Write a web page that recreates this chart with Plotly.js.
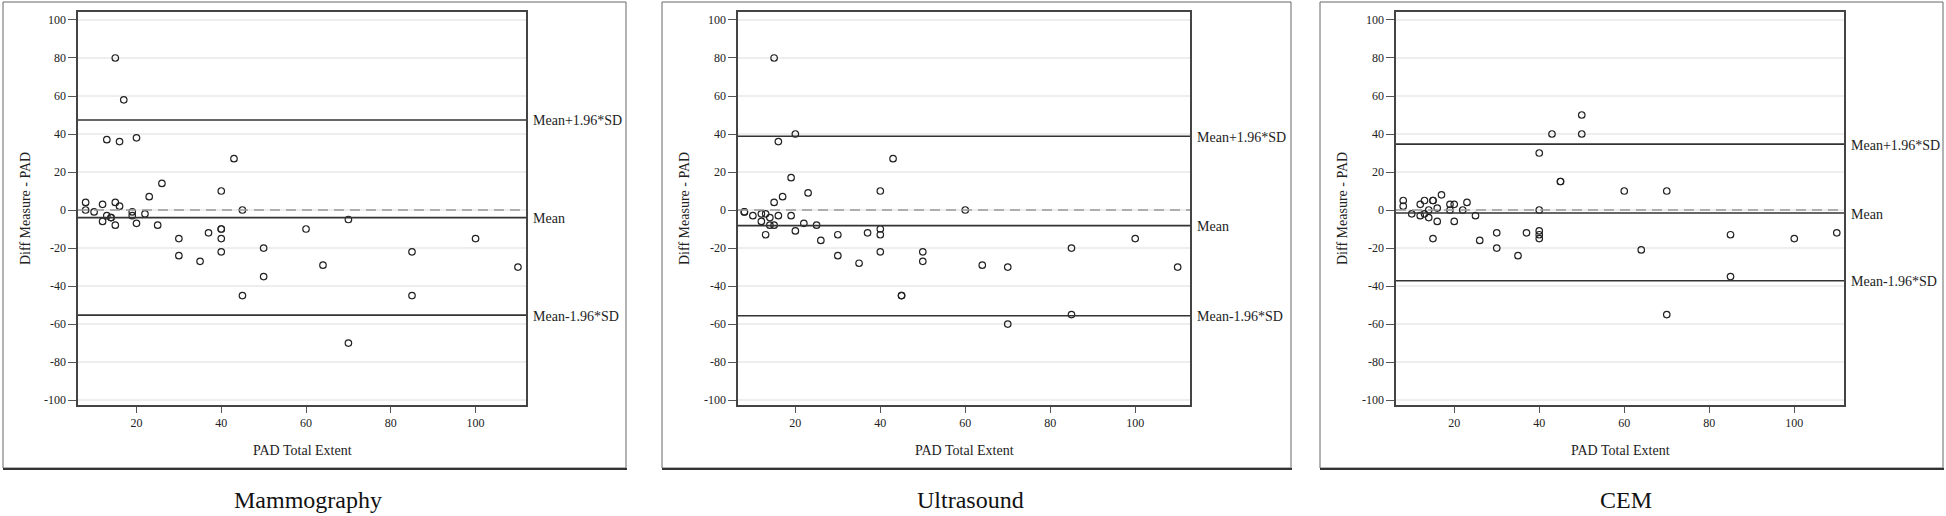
<!DOCTYPE html>
<html>
<head>
<meta charset="utf-8">
<script src="https://cdn.plot.ly/plotly-3.0.1.min.js"></script>
<style>html,body{margin:0;padding:0;background:#fff;}#chart{width:1946px;height:516px;}</style>
</head>
<body>
<div id="chart"></div>
<script>
// ---------- DATA ----------
const panelNames = ['Mammography', 'Ultrasound', 'CEM'];

const xMammo = [8, 8, 10, 12, 12, 13, 13, 14, 14, 15, 15, 15, 16, 16, 17, 19, 19, 20, 20, 22, 23, 25, 26, 30, 30, 35, 37, 40, 40, 40, 40, 40, 43, 45, 45, 50, 50, 60, 64, 70, 70, 85, 85, 100, 110];
const yMammo = [4, 0, -1, 3, -6, 37, -3, -4, -4, 80, 4, -8, 36, 2, 58, -1, -3, 38, -7, -2, 7, -8, 14, -15, -24, -27, -12, 10, -10, -10, -15, -22, 27, 0, -45, -20, -35, -10, -29, -5, -70, -22, -45, -15, -30];

const xUltra = [8, 8, 10, 12, 12, 13, 13, 14, 14, 15, 15, 15, 16, 16, 17, 19, 19, 20, 20, 22, 23, 25, 26, 30, 30, 35, 37, 40, 40, 40, 40, 43, 45, 45, 50, 50, 60, 64, 70, 70, 85, 85, 100, 110];
const yUltra = [-1, -1, -3, -2, -6, -2, -13, -4, -8, 80, 4, -8, 36, -3, 7, 17, -3, 40, -11, -7, 9, -8, -16, -13, -24, -28, -12, 10, -10, -13, -22, 27, -45, -45, -22, -27, 0, -29, -30, -60, -20, -55, -15, -30];

const xCEM = [8, 8, 10, 12, 12, 13, 13, 14, 14, 15, 15, 15, 16, 16, 17, 19, 19, 20, 20, 22, 23, 25, 26, 30, 30, 35, 37, 40, 40, 40, 40, 40, 43, 45, 45, 50, 50, 60, 64, 70, 70, 85, 85, 100, 110];
const yCEM = [5, 2, -2, 3, -3, 5, -2, 0, -4, 5, 5, -15, 1, -6, 8, 3, 0, 3, -6, 0, 4, -3, -16, -12, -20, -24, -12, 30, 0, -11, -13, -15, 40, 15, 15, 50, 40, 10, -21, 10, -55, -13, -35, -15, -12];

const meanVals  = [-4.0, -8.2, -1.6];
const upperVals = [47.4, 38.8, 34.7];
const lowerVals = [-55.3, -55.6, -37.2];
const refLabels = ['Mean+1.96*SD', 'Mean', 'Mean-1.96*SD'];

const yTickVals = [-100, -80, -60, -40, -20, 0, 20, 40, 60, 80, 100];
const yTickText = ['-100', '-80', '-60', '-40', '-20', '0', '20', '40', '60', '80', '100'];
const xTickVals = [20, 40, 60, 80, 100];
const xTickText = ['20', '40', '60', '80', '100'];
const xTitleText = 'PAD Total Extent';
const yTitleText = 'Diff Measure - PAD';

// ---------- LAYOUT CONSTANTS ----------
const W = 1946, H = 516;
const FONT = 'Liberation Serif, Times New Roman, serif';
const plotPx  = [[78, 526], [738, 1190], [1396, 1844]];
const framePx = [[3, 626], [662, 1291], [1320, 1943]];
const xRanges = [[6.2, 111.9], [6.5, 112.9], [6.3, 111.7]];
const yRange = [-102.6, 104.2];
const plotTop = 12, plotBot = 405, frameTop = 2, frameBot = 468;
const px = v => v / W;
const py = v => 1 - v / H;

const xs = [xMammo, xUltra, xCEM];
const ys = [yMammo, yUltra, yCEM];

const data = [];
const layout = {
  width: W, height: H,
  margin: {l: 0, r: 0, t: 0, b: 0},
  paper_bgcolor: '#ffffff', plot_bgcolor: '#ffffff',
  showlegend: false,
  font: {family: FONT, color: '#222', size: 12},
  shapes: [], annotations: []
};

for (let i = 0; i < 3; i++) {
  const s = i === 0 ? '' : String(i + 1);
  data.push({
    type: 'scatter', mode: 'markers',
    x: xs[i], y: ys[i],
    xaxis: 'x' + s, yaxis: 'y' + s,
    marker: {symbol: 'circle-open', size: 6.5, color: '#222', line: {width: 1.2, color: '#222'}},
    hoverinfo: 'x+y'
  });
  layout['xaxis' + s] = {
    domain: [px(plotPx[i][0]), px(plotPx[i][1])],
    anchor: 'y' + s,
    range: xRanges[i],
    tickmode: 'array', tickvals: xTickVals, ticktext: xTickText,
    ticks: 'outside', ticklen: 6, tickwidth: 1, tickcolor: '#555',
    tickfont: {family: FONT, size: 12, color: '#222'},
    showgrid: false, zeroline: false,
    showline: true, mirror: true, linecolor: '#444', linewidth: 1.6
  };
  layout['yaxis' + s] = {
    domain: [py(plotBot), py(plotTop)],
    anchor: 'x' + s,
    range: yRange,
    tickmode: 'array', tickvals: yTickVals, ticktext: yTickText,
    ticks: 'outside', ticklen: 8, tickwidth: 1, tickcolor: '#555',
    tickfont: {family: FONT, size: 12, color: '#222'},
    showgrid: true, gridcolor: '#eeeeee', gridwidth: 1.5,
    zeroline: false,
    showline: true, mirror: true, linecolor: '#444', linewidth: 1.6
  };
  // outer panel frame
  layout.shapes.push({type: 'rect', xref: 'paper', yref: 'paper',
    x0: px(framePx[i][0]), x1: px(framePx[i][1]), y0: py(frameBot), y1: py(frameTop),
    line: {color: '#666', width: 1}, layer: 'below'});
  layout.shapes.push({type: 'line', xref: 'paper', yref: 'paper',
    x0: px(framePx[i][0]), x1: px(framePx[i][1] + 1), y0: py(frameBot + 1), y1: py(frameBot + 1),
    line: {color: '#333', width: 2}});
  // zero reference dashed line
  layout.shapes.push({type: 'line', xref: 'x' + s + ' domain', yref: 'y' + s,
    x0: 0, x1: 1, y0: 0, y1: 0, line: {color: '#999', width: 1.5, dash: '10px,6px'}});
  // mean and limits
  const vals = [upperVals[i], meanVals[i], lowerVals[i]];
  for (let k = 0; k < 3; k++) {
    layout.shapes.push({type: 'line', xref: 'x' + s + ' domain', yref: 'y' + s,
      x0: 0, x1: 1, y0: vals[k], y1: vals[k], line: {color: '#333', width: 1.6}});
    layout.annotations.push({xref: 'x' + s + ' domain', yref: 'y' + s,
      x: 1, y: vals[k], xanchor: 'left', yanchor: 'middle', xshift: 5, yshift: -1,
      text: refLabels[k], showarrow: false, font: {family: FONT, size: 14, color: '#222'}});
  }
  // axis titles
  layout.annotations.push({xref: 'paper', yref: 'paper',
    x: px((plotPx[i][0] + plotPx[i][1]) / 2), y: py(450), xanchor: 'center', yanchor: 'middle',
    text: xTitleText, showarrow: false, font: {family: FONT, size: 14, color: '#222'}});
  layout.annotations.push({xref: 'paper', yref: 'paper',
    x: px(framePx[i][0] + 22), y: py(209), xanchor: 'center', yanchor: 'middle', textangle: -90,
    text: yTitleText, showarrow: false, font: {family: FONT, size: 14, color: '#222'}});
  // panel caption
  layout.annotations.push({xref: 'paper', yref: 'paper',
    x: px((plotPx[i][0] + plotPx[i][1]) / 2 + 6), y: py(500), xanchor: 'center', yanchor: 'middle',
    text: panelNames[i], showarrow: false, font: {family: FONT, size: 24, color: '#111'}});
}

Plotly.newPlot('chart', data, layout, {staticPlot: true, displayModeBar: false});
</script>
</body>
</html>
